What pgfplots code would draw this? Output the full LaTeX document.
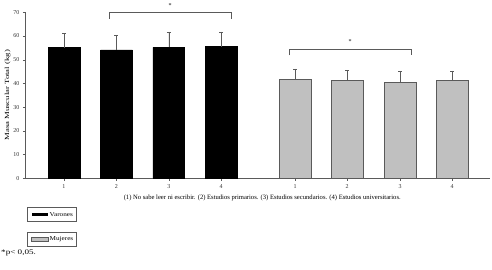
\documentclass[border=0pt]{standalone}
\usepackage{pgfplots}
\pgfplotsset{compat=1.18}
\usepackage{fontspec}
\setmainfont{Liberation Serif}
\definecolor{axgray}{RGB}{90,90,90}
\definecolor{mujer}{RGB}{192,192,192}
\begin{document}
\begin{tikzpicture}
\path[use as bounding box] (0pt,0pt) rectangle (492pt,-270pt);
\begin{axis}[
  at={(25.5pt,-178.3pt)}, anchor=south west,
  scale only axis, width=464.5pt, height=166pt,
  xmin=25.5, xmax=490, ymin=0, ymax=70,
  axis lines=left, axis line style={axgray,-, line width=0.5pt},
  clip=false,
  xtick={64,116.4,168.8,221.2,295,347,400,452},
  xticklabels={1,2,3,4,1,2,3,4},
  ytick={0,10,...,70},
  tick align=outside, major tick length=2.5pt,
  tick style={axgray, line width=0.4pt},
  tick label style={font=\fontsize{6}{7}\selectfont, text=black!80},
  /pgf/number format/assume math mode=true,
  ylabel={\scalebox{1.38}[1]{Masa Muscular Total (kg)}},
  ylabel style={font=\fontsize{6.3}{7}\selectfont, yshift=-4pt},
  xlabel={(1) No sabe leer ni escribir. (2) Estudios primarios. (3) Estudios secundarios. (4) Estudios universitarios.},
  xlabel style={font=\fontsize{6.6}{7}\selectfont, xshift=4.5pt, yshift=0pt},
  ybar, bar width=31.7, bar shift=0pt,
  error bars/y dir=plus, error bars/y explicit,
  error bars/error bar style={axgray, line width=0.6pt},
  error bars/error mark options={rotate=90, mark size=2pt, axgray, line width=0.6pt},
]
\addplot[fill=black, draw=black, bar shift=0pt] coordinates {
 (64,55.1) +- (0,6.1)
 (116.4,54.2) +- (0,6.2)
 (168.8,55.2) +- (0,6.2)
 (221.2,55.5) +- (0,6.2)
};
\addplot[fill=mujer, draw=axgray, line width=0.6pt, bar shift=0pt] coordinates {
 (295,41.8) +- (0,4.3)
 (347,41.3) +- (0,4.1)
 (400,40.6) +- (0,4.5)
 (452,41.2) +- (0,4.1)
};
\draw[axgray, line width=0.6pt] (axis cs:109,67.2) -- (axis cs:109,70) -- (axis cs:231,70) -- (axis cs:231,67.2);
\node[font=\fontsize{6}{7}\selectfont] at (axis cs:170,73) {*};
\draw[axgray, line width=0.6pt] (axis cs:289,51.8) -- (axis cs:289,54.5) -- (axis cs:411,54.5) -- (axis cs:411,51.8);
\node[font=\fontsize{6}{7}\selectfont] at (axis cs:350,57.5) {*};
\end{axis}
\draw[axgray, line width=0.5pt] (27.5pt,-207.5pt) rectangle (76pt,-221.5pt);
\fill[black] (31.5pt,-212.8pt) rectangle (48pt,-216.2pt);
\node[anchor=west, font=\fontsize{6}{7}\selectfont, inner sep=0] at (49.5pt,-214.5pt) {\scalebox{1.2}[1]{Varones}};
\draw[axgray, line width=0.5pt] (27.5pt,-232pt) rectangle (76pt,-246pt);
\filldraw[fill=mujer, draw=axgray, line width=0.4pt] (31.5pt,-237.3pt) rectangle (48pt,-240.7pt);
\node[anchor=west, font=\fontsize{6}{7}\selectfont, inner sep=0] at (49.5pt,-239pt) {\scalebox{1.2}[1]{Mujeres}};
\node[anchor=west, font=\fontsize{7}{8}\selectfont, inner sep=0] at (1pt,-252.5pt) {\scalebox{1.3}[1]{*p< 0,05.}};
\end{tikzpicture}
\end{document}
